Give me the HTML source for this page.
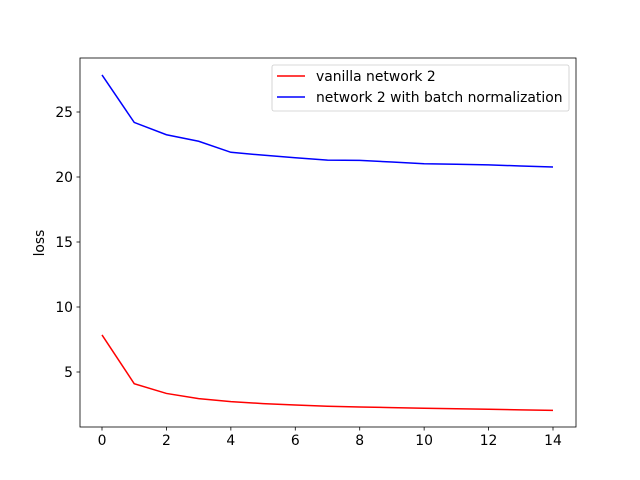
<!DOCTYPE html>
<html><head><meta charset="utf-8"><style>body{margin:0;background:#fff}svg{display:block;font-family:"DejaVu Sans","Liberation Sans",sans-serif}</style></head>
<body>
<svg id="chart" width="640" height="480" xmlns="http://www.w3.org/2000/svg"></svg>
<script>
const epochs=[0,1,2,3,4,5,6,7,8,9,10,11,12,13,14];
const vanillaLoss=[7.85,4.1,3.35,2.95,2.72,2.57,2.46,2.37,2.31,2.26,2.21,2.17,2.13,2.09,2.05];
const batchNormLoss=[27.85,24.2,23.25,22.75,21.9,21.68,21.48,21.3,21.28,21.15,21.02,20.98,20.93,20.85,20.77];
const xTicks=[0,2,4,6,8,10,12,14];
const yTicks=[5,10,15,20,25];
const NS="http://www.w3.org/2000/svg";
const svg=document.getElementById('chart');
const L=80,R=576,T=58,B=427;
const FS=13.9;
const xs=v=>102+(v-0)*(553-102)/14;
const ys=v=>372-(v-5)*13;
function mk(t,a){const e=document.createElementNS(NS,t);for(const k in a)e.setAttribute(k,a[k]);svg.appendChild(e);return e;}
const frame=mk('rect',{x:L,y:T,width:R-L,height:B-T,fill:'none',stroke:'#000','stroke-width':0.8});


xTicks.forEach(t=>{
 const l=mk('line',{x1:xs(t),x2:xs(t),y1:B,y2:B+3.5,stroke:'#000','stroke-width':0.8});
 
 
 const tx=mk('text',{x:xs(t),y:B+18,'font-size':FS,'text-anchor':'middle'});tx.textContent=t;
 
 
});
yTicks.forEach(t=>{
 const l=mk('line',{x1:L-3.5,x2:L,y1:ys(t),y2:ys(t),stroke:'#000','stroke-width':0.8});
 
 
 const tx=mk('text',{x:L-7,y:ys(t)+5,'font-size':FS,'text-anchor':'end'});tx.textContent=t;
 
 
});
const yt=mk('text',{x:44,y:243,'font-size':FS,'text-anchor':'middle',transform:'rotate(-90 44 243)'});yt.textContent='loss';


function line(data,color,name){
 const p=mk('polyline',{points:data.map((v,i)=>xs(epochs[i])+','+ys(v)).join(' '),fill:'none',stroke:color,'stroke-width':1.5});
 
 
}
line(vanillaLoss,'#ff0000','vanilla-network-2-line');
line(batchNormLoss,'#0000ff','batch-norm-network-2-line');
const lg=mk('rect',{x:272,y:65,width:297,height:46,rx:2,fill:'#fff',stroke:'#ccc','stroke-width':0.8});


[['vanilla network 2','#ff0000',76],['network 2 with batch normalization','#0000ff',97]].forEach(([t,c,y])=>{
 const l=mk('line',{x1:277,x2:305,y1:y,y2:y,stroke:c,'stroke-width':1.5});
 
 
 const tx=mk('text',{x:316,y:y+5,'font-size':FS});tx.textContent=t;
 
 
});
</script>
</body></html>
